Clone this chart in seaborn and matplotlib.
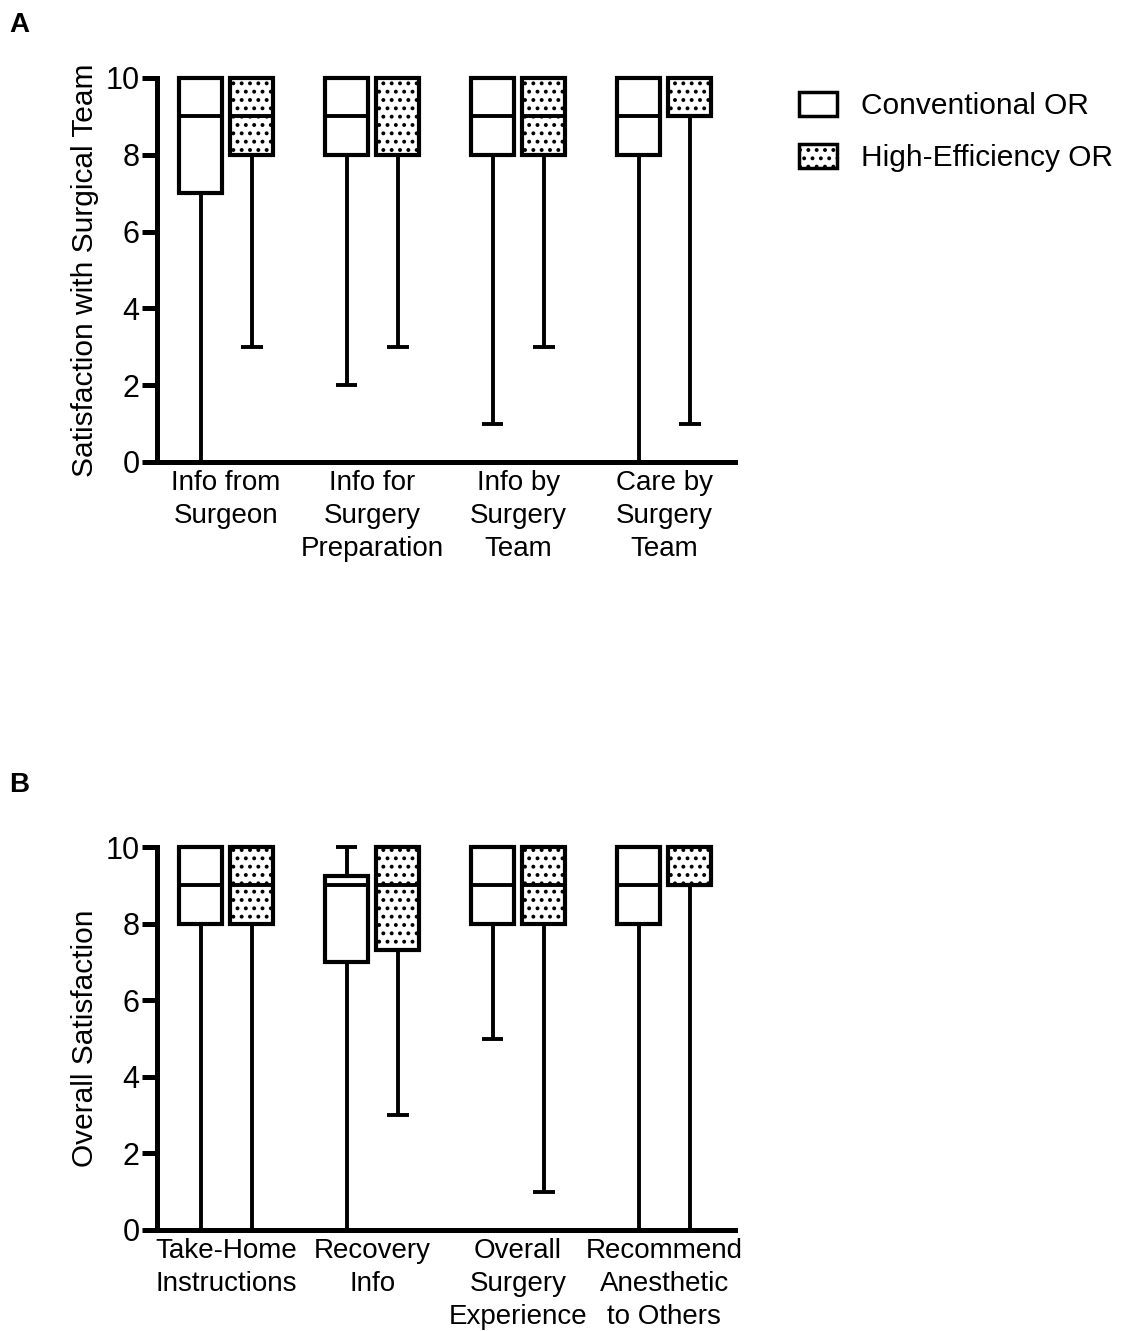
"""
Patient satisfaction: Conventional OR vs High-Efficiency OR
Box plots (min to max whiskers) for two panels
"""
import pandas as pd
import numpy as np
import matplotlib.pyplot as plt
from matplotlib.patches import Patch
import seaborn as sns

# ---------------------------------------------------------------------------
# Data: five-number summaries (min, Q1, median, Q3, max)
# ---------------------------------------------------------------------------
groups = ['Conventional OR', 'High-Efficiency OR']

cats_a = ['Info from\nSurgeon', 'Info for\nSurgery\nPreparation',
          'Info by\nSurgery\nTeam', 'Care by\nSurgery\nTeam']
conv_a = [[0, 7, 9, 10, 10], [2, 8, 9, 10, 10], [1, 8, 9, 10, 10], [0, 8, 9, 10, 10]]
high_a = [[3, 8, 9, 10, 10], [3, 8, 10, 10, 10], [3, 8, 9, 10, 10], [1, 9, 10, 10, 10]]

cats_b = ['Take-Home\nInstructions', 'Recovery\nInfo',
          'Overall\nSurgery\nExperience', 'Recommend\nAnesthetic\nto Others']
conv_b = [[0, 8, 9, 10, 10], [0, 7, 9, 9.25, 10], [5, 8, 9, 10, 10], [0, 8, 9, 10, 10]]
high_b = [[0, 8, 9, 10, 10], [3, 7.3, 9, 10, 10], [1, 8, 9, 10, 10], [0, 9, 10, 10, 10]]

ylabel_a = 'Satisfaction with Surgical Team'
ylabel_b = 'Overall Satisfaction'


def to_long(cats, conv, high):
    rows = []
    for cat, c, h in zip(cats, conv, high):
        for v in c:
            rows.append((cat, groups[0], v))
        for v in h:
            rows.append((cat, groups[1], v))
    return pd.DataFrame(rows, columns=['item', 'group', 'score'])


sns.set_style('ticks')
plt.rcParams['font.family'] = ['Liberation Sans', 'DejaVu Sans']
plt.rcParams['hatch.linewidth'] = 1.6
plt.rcParams['hatch.color'] = 'black'
for key in ['text.color', 'axes.labelcolor', 'xtick.color', 'ytick.color',
            'axes.edgecolor']:
    plt.rcParams[key] = 'black'

fig = plt.figure(figsize=(11.25, 13.31), dpi=100)
ax_a = fig.add_axes([0.1396, 0.6529, 0.5138, 0.2885])
ax_b = fig.add_axes([0.1396, 0.0759, 0.5138, 0.2877])

FS_TICK = 22
FS_CAT = 20
FS_LAB = 21.5


def draw_panel(ax, cats, conv, high, ylabel):
    df = to_long(cats, conv, high)
    sns.boxplot(data=df, x='item', y='score', hue='group', order=cats,
                hue_order=groups, palette=['white', 'white'], linecolor='black',
                linewidth=2.8, whis=(0, 100), width=0.7, gap=0.15,
                showfliers=False, legend=False, ax=ax)
    # dotted fill for High-Efficiency boxes (right of each category centre)
    for p in ax.patches:
        xs = p.get_path().vertices[:, 0]
        if xs.mean() > np.round(xs.mean()):
            p.set_hatch('..')
        p.set_linewidth(3)
        p.set_clip_on(False)
    for ln in ax.lines:
        ln.set_clip_on(False)
        ln.set_solid_capstyle('butt')
    ax.set_ylim(0, 10)
    ax.set_xlim(-0.473, 3.486)
    ax.set_yticks([0, 2, 4, 6, 8, 10])
    ax.set_xlabel('')
    ax.set_ylabel(ylabel, fontsize=FS_LAB, labelpad=4.5)
    ax.tick_params(axis='y', labelsize=FS_TICK, length=11, width=3.6, pad=1.5)
    ax.tick_params(axis='x', labelsize=FS_CAT, length=0, pad=6)
    for lab in ax.get_xticklabels():
        lab.set_linespacing(1.34)
    sns.despine(ax=ax)
    for s in ['left', 'bottom']:
        ax.spines[s].set_linewidth(3.6)
        ax.spines[s].set_capstyle('projecting')


draw_panel(ax_a, cats_a, conv_a, high_a, ylabel_a)
draw_panel(ax_b, cats_b, conv_b, high_b, ylabel_b)

# legend to the right of panel A
handles = [Patch(facecolor='white', edgecolor='black', linewidth=2.5, label=groups[0]),
           Patch(facecolor='white', edgecolor='black', linewidth=2.5, hatch='..',
                 label=groups[1])]
fig.legend(handles=handles, loc='upper left', bbox_to_anchor=(0.686, 0.951),
           frameon=False, fontsize=FS_LAB, handlelength=1.3, handleheight=0.85,
           labelspacing=0.8, handletextpad=0.8)

fig.text(0.008, 0.981, 'A', fontsize=20, fontweight='bold', va='center')
fig.text(0.008, 0.41, 'B', fontsize=20, fontweight='bold', va='center')

plt.savefig('out.png', dpi=100)
plt.close()
